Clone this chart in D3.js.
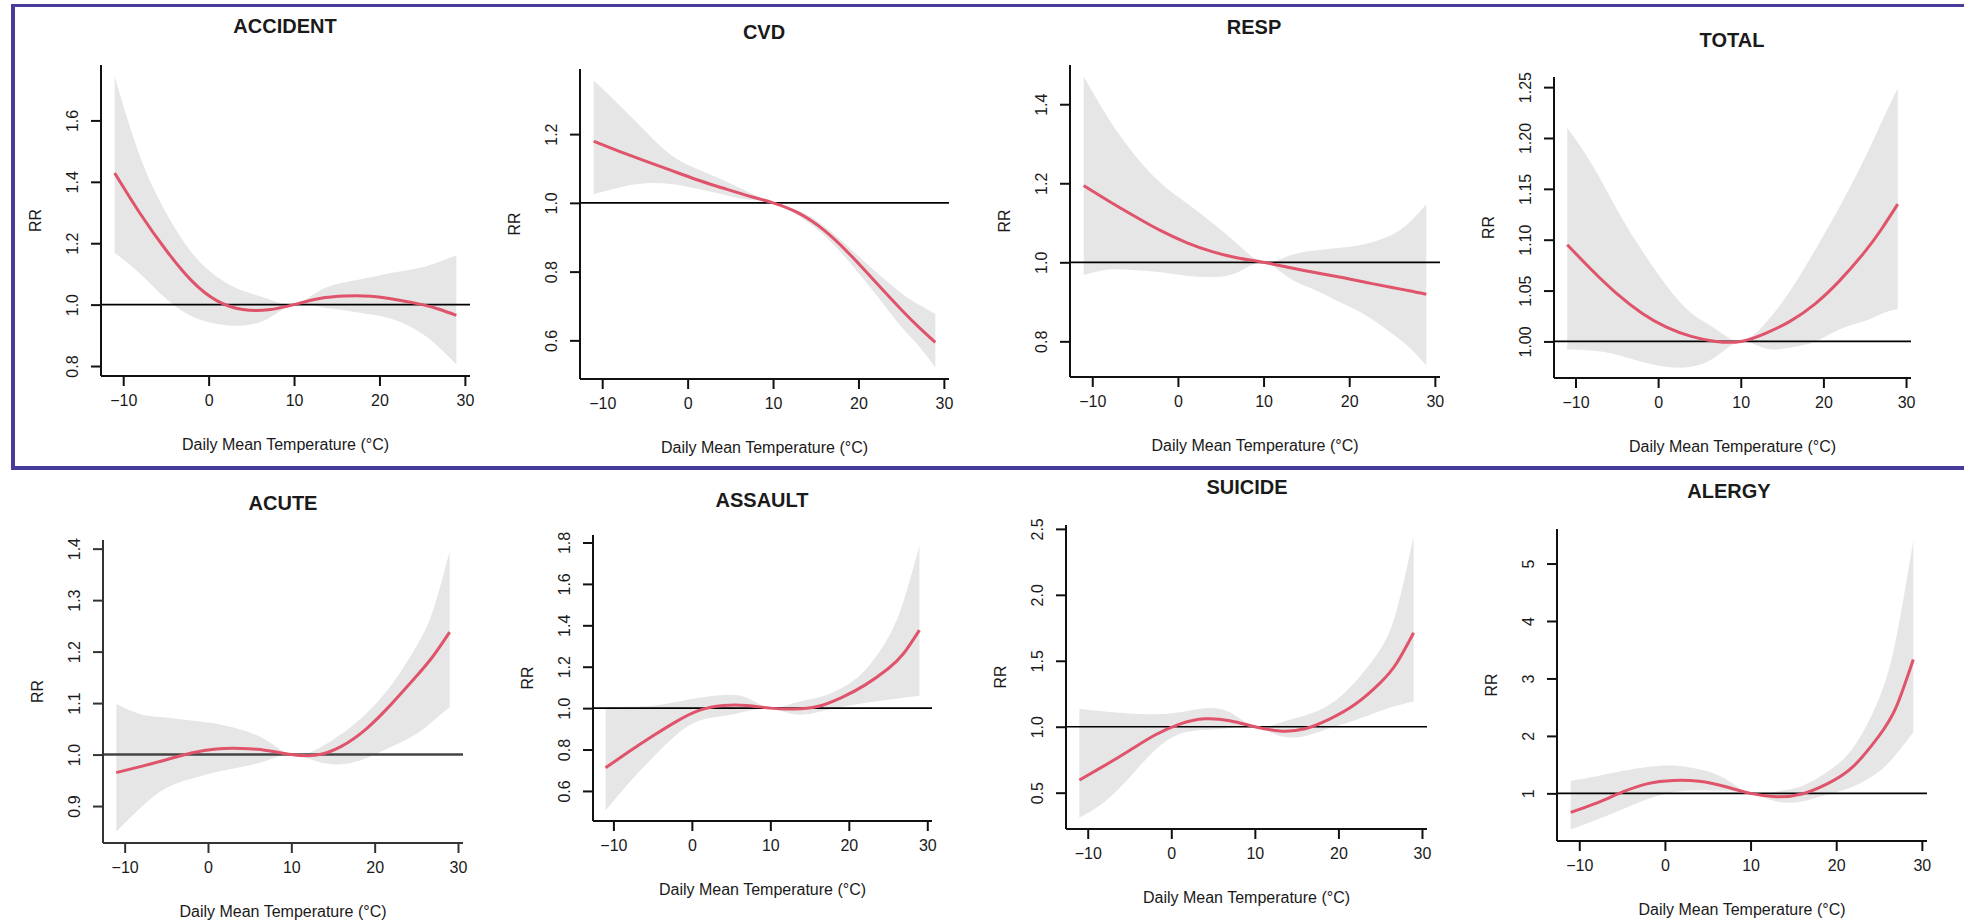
<!DOCTYPE html>
<html lang="en">
  <head>
    <meta charset="UTF-8" />
    <title>RR vs Daily Mean Temperature</title>
    <script src="https://d3js.org/d3.v7.min.js"></script>
    <style>
      body { margin: 0; background: #fff; }
      text { font-family: "Liberation Sans", Arial, sans-serif; fill: #1a1a1a; }
    </style>
  </head>
  <body>
    <div id="chart"></div>

    <script>
      const temps = [-11, -8, -5, -2, 1, 4, 7, 10, 13, 16, 19, 22, 25, 27, 29];
      const xTicks = [-10, 0, 10, 20, 30];

      // ACCIDENT
      const accidentRR = [1.429, 1.296, 1.178, 1.078, 1.012, 0.984, 0.983, 1.0, 1.02, 1.028, 1.027, 1.016, 1.0, 0.985, 0.965];
      const accidentLo = [1.169, 1.10, 1.02, 0.962, 0.937, 0.932, 0.955, 1.0, 0.993, 0.981, 0.968, 0.948, 0.905, 0.86, 0.805];
      const accidentHi = [1.743, 1.48, 1.30, 1.17, 1.09, 1.045, 1.018, 1.0, 1.046, 1.073, 1.089, 1.106, 1.122, 1.14, 1.16];
      const accidentTicks = ["0.8", "1.0", "1.2", "1.4", "1.6"];

      // CVD
      const cvdRR = [1.179, 1.15, 1.122, 1.095, 1.068, 1.044, 1.021, 1.0, 0.97, 0.92, 0.85, 0.77, 0.69, 0.64, 0.594];
      const cvdLo = [1.026, 1.045, 1.057, 1.055, 1.042, 1.025, 1.01, 1.0, 0.962, 0.905, 0.826, 0.735, 0.64, 0.585, 0.521];
      const cvdHi = [1.356, 1.285, 1.21, 1.14, 1.10, 1.068, 1.033, 1.0, 0.977, 0.932, 0.868, 0.80, 0.738, 0.705, 0.677];
      const cvdTicks = ["0.6", "0.8", "1.0", "1.2"];

      // RESP
      const respRR = [1.194, 1.154, 1.116, 1.08, 1.05, 1.027, 1.011, 1.0, 0.987, 0.974, 0.962, 0.949, 0.936, 0.928, 0.919];
      const respLo = [0.968, 0.982, 0.98, 0.975, 0.966, 0.963, 0.975, 1.0, 0.96, 0.93, 0.898, 0.865, 0.82, 0.785, 0.739];
      const respHi = [1.47, 1.36, 1.27, 1.20, 1.15, 1.10, 1.045, 1.0, 1.017, 1.03, 1.037, 1.047, 1.07, 1.10, 1.147];
      const respTicks = ["0.8", "1.0", "1.2", "1.4"];

      // TOTAL
      const totalRR = [1.095, 1.07, 1.047, 1.028, 1.014, 1.005, 1.0, 1.0, 1.008, 1.02, 1.037, 1.06, 1.088, 1.11, 1.135];
      const totalLo = [0.992, 0.991, 0.987, 0.98, 0.975, 0.975, 0.985, 1.0, 0.993, 0.994, 1.0, 1.012, 1.02, 1.027, 1.032];
      const totalHi = [1.21, 1.174, 1.13, 1.09, 1.055, 1.028, 1.012, 1.0, 1.018, 1.05, 1.09, 1.133, 1.18, 1.215, 1.249];
      const totalTicks = ["1.00", "1.05", "1.10", "1.15", "1.20", "1.25"];

      // ACUTE
      const acuteRR = [0.965, 0.977, 0.99, 1.003, 1.011, 1.012, 1.008, 1.0, 0.999, 1.016, 1.05, 1.098, 1.152, 1.191, 1.238];
      const acuteLo = [0.85, 0.898, 0.935, 0.953, 0.966, 0.976, 0.988, 1.0, 0.987, 0.981, 0.993, 1.015, 1.04, 1.065, 1.092];
      const acuteHi = [1.098, 1.078, 1.072, 1.066, 1.06, 1.048, 1.028, 1.0, 1.01, 1.04, 1.08, 1.135, 1.21, 1.28, 1.395];
      const acuteTicks = ["0.9", "1.0", "1.1", "1.2", "1.3", "1.4"];

      // ASSAULT
      const assaultRR = [0.712, 0.79, 0.865, 0.935, 0.99, 1.013, 1.013, 1.0, 0.996, 1.008, 1.05, 1.11, 1.19, 1.265, 1.377];
      const assaultLo = [0.506, 0.64, 0.76, 0.87, 0.94, 0.962, 0.985, 1.0, 0.97, 0.98, 1.005, 1.025, 1.04, 1.05, 1.06];
      const assaultHi = [1.005, 1.007, 1.012, 1.03, 1.05, 1.063, 1.05, 1.0, 1.025, 1.05, 1.095, 1.18, 1.34, 1.52, 1.785];
      const assaultTicks = ["0.6", "0.8", "1.0", "1.2", "1.4", "1.6", "1.8"];

      // SUICIDE
      const suicideRR = [0.595, 0.705, 0.82, 0.935, 1.02, 1.06, 1.045, 1.0, 0.968, 0.985, 1.06, 1.17, 1.333, 1.485, 1.712];
      const suicideLo = [0.31, 0.43, 0.615, 0.82, 0.945, 0.975, 0.99, 1.0, 0.93, 0.93, 0.99, 1.05, 1.119, 1.16, 1.194];
      const suicideHi = [1.136, 1.115, 1.10, 1.095, 1.11, 1.14, 1.11, 1.0, 1.03, 1.085, 1.17, 1.34, 1.586, 1.889, 2.444];
      const suicideTicks = ["0.5", "1.0", "1.5", "2.0", "2.5"];

      // ALERGY
      const alergyRR = [0.67, 0.83, 1.02, 1.17, 1.225, 1.21, 1.12, 1.0, 0.943, 0.99, 1.17, 1.47, 2.0, 2.5, 3.33];
      const alergyLo = [0.372, 0.54, 0.72, 0.9, 1.02, 1.055, 1.045, 1.0, 0.86, 0.86, 0.98, 1.12, 1.38, 1.68, 2.058];
      const alergyHi = [1.22, 1.30, 1.39, 1.46, 1.485, 1.42, 1.26, 1.0, 1.03, 1.13, 1.38, 1.8, 2.65, 3.7, 5.4];
      const alergyTicks = ["1", "2", "3", "4", "5"];

      const panels = [
        { name: "ACCIDENT", rr: accidentRR, lo: accidentLo, hi: accidentHi, ticks: accidentTicks },
        { name: "CVD", rr: cvdRR, lo: cvdLo, hi: cvdHi, ticks: cvdTicks },
        { name: "RESP", rr: respRR, lo: respLo, hi: respHi, ticks: respTicks },
        { name: "TOTAL", rr: totalRR, lo: totalLo, hi: totalHi, ticks: totalTicks },
        { name: "ACUTE", rr: acuteRR, lo: acuteLo, hi: acuteHi, ticks: acuteTicks },
        { name: "ASSAULT", rr: assaultRR, lo: assaultLo, hi: assaultHi, ticks: assaultTicks },
        { name: "SUICIDE", rr: suicideRR, lo: suicideLo, hi: suicideHi, ticks: suicideTicks },
        { name: "ALERGY", rr: alergyRR, lo: alergyLo, hi: alergyHi, ticks: alergyTicks },
      ];

      // plot boxes of each pasted panel (left, right, top, bottom, title baseline, title centre)
      const layout = [
        { l: 101, r: 470, t: 65, b: 376, ty: 33, tx: 285 },
        { l: 580, r: 949, t: 69, b: 379, ty: 39, tx: 764 },
        { l: 1070, r: 1440, t: 65, b: 377, ty: 34, tx: 1254 },
        { l: 1554, r: 1911, t: 77, b: 378, ty: 47, tx: 1732 },
        { l: 103, r: 463, t: 540, b: 843, ty: 510, tx: 283 },
        { l: 593, r: 932, t: 535, b: 821, ty: 507, tx: 762 },
        { l: 1066, r: 1427, t: 525, b: 829, ty: 494, tx: 1247 },
        { l: 1557, r: 1927, t: 529, b: 841, ty: 498, tx: 1729 },
      ];

      const width = 1964, height = 920;
      const svg = d3
        .select("#chart")
        .append("svg")
        .attr("width", width)
        .attr("height", height);

      // R-style axis range: data range padded by 4% each side
      function pad(ext) {
        const d = (ext[1] - ext[0]) * 0.04;
        return [ext[0] - d, ext[1] + d];
      }

      panels.forEach((p, i) => {
        const box = layout[i];
        const g = svg.append("g");

        const x = d3.scaleLinear().domain(pad(d3.extent(temps))).range([box.l, box.r]);
        const y = d3
          .scaleLinear()
          .domain(pad([d3.min(p.lo), d3.max(p.hi)]))
          .range([box.b, box.t]);

        const rows = temps.map((t, k) => ({ t, rr: p.rr[k], lo: p.lo[k], hi: p.hi[k] }));

        // confidence band
        g.append("path")
          .datum(rows)
          .attr("fill", "#e6e6e6")
          .attr(
            "d",
            d3
              .area()
              .curve(d3.curveNatural)
              .x((d) => x(d.t))
              .y0((d) => y(d.lo))
              .y1((d) => y(d.hi))
          );

        // reference line RR = 1
        g.append("line")
          .attr("x1", box.l)
          .attr("x2", box.r)
          .attr("y1", y(1))
          .attr("y2", y(1))
          .attr("stroke", i === 4 ? "#444" : "#000")
          .attr("stroke-width", i === 4 ? 2.6 : 1.7);

        // RR curve
        g.append("path")
          .datum(rows)
          .attr("fill", "none")
          .attr("stroke", "#df536b")
          .attr("stroke-width", 3)
          .attr(
            "d",
            d3
              .line()
              .curve(d3.curveNatural)
              .x((d) => x(d.t))
              .y((d) => y(d.rr))
          );

        // x axis
        const xAxis = g
          .append("g")
          .attr("transform", `translate(0,${box.b})`)
          .call(d3.axisBottom(x).tickValues(xTicks).tickSize(10).tickPadding(9).tickFormat(d3.format("d")));
        xAxis.select(".domain").attr("d", `M${box.l},0H${box.r}`);

        // y axis
        const yAxis = g
          .append("g")
          .attr("transform", `translate(${box.l},0)`)
          .call(d3.axisLeft(y).tickValues(p.ticks.map(Number)).tickSize(10).tickFormat((d, k) => p.ticks[k]));
        yAxis.select(".domain").attr("d", `M0,${box.t}V${box.b}`);

        g.selectAll(".domain, .tick line").attr("stroke", i === 4 ? "#333" : "#111").attr("stroke-width", 2);
        g.selectAll(".tick text")
          .style("font-family", '"Liberation Sans", Arial, sans-serif')
          .style("font-size", "16px")
          .attr("fill", "#1a1a1a");

        yAxis
          .selectAll(".tick text")
          .attr("x", null)
          .attr("dy", null)
          .attr("text-anchor", "middle")
          .attr("dominant-baseline", "central")
          .attr("transform", "translate(-29,0) rotate(-90)");

        // titles and axis labels
        g.append("text")
          .attr("x", box.tx)
          .attr("y", box.ty)
          .attr("text-anchor", "middle")
          .style("font-size", "20px")
          .style("font-weight", "bold")
          .text(p.name);

        g.append("text")
          .attr("transform", `translate(${box.l - 66},${(box.t + box.b) / 2}) rotate(-90)`)
          .attr("text-anchor", "middle")
          .attr("dominant-baseline", "central")
          .style("font-size", "16px")
          .text("RR");

        g.append("text")
          .attr("x", (box.l + box.r) / 2)
          .attr("y", box.b + 68)
          .attr("text-anchor", "middle")
          .attr("dominant-baseline", "central")
          .style("font-size", "16px")
          .text("Daily Mean Temperature (°C)");
      });

      // purple frame around the top row
      const frame = "#473b9c";
      svg.append("rect").attr("x", 11).attr("y", 4).attr("width", width - 11).attr("height", 3).attr("fill", frame);
      svg.append("rect").attr("x", 11).attr("y", 4).attr("width", 4).attr("height", 466).attr("fill", frame);
      svg.append("rect").attr("x", 11).attr("y", 466).attr("width", width - 11).attr("height", 4).attr("fill", frame);
    </script>
  </body>
</html>
